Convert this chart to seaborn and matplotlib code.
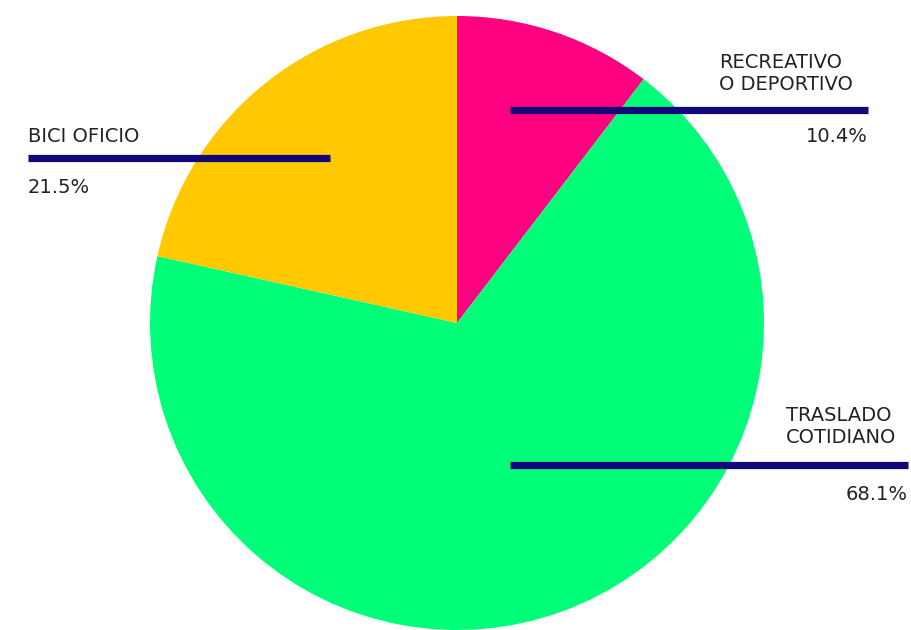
import matplotlib
matplotlib.use("Agg")
import matplotlib.pyplot as plt
import seaborn as sns

categories = ["RECREATIVO\nO DEPORTIVO", "TRASLADO\nCOTIDIANO", "BICI OFICIO"]
values = [10.4, 68.1, 21.5]
pct_labels = ["10.4%", "68.1%", "21.5%"]
colors = ["#FF0080", "#00FF78", "#FFC800"]

sns.set_theme(style="white")
plt.rcParams['font.family'] = ['DejaVu Sans']

H = 630
fig = plt.figure(figsize=(9.12, 6.3), dpi=100)
ax = fig.add_axes([0, 0, 1, 1])

ax.pie(values, colors=colors, startangle=90, counterclock=False,
       center=(457, H - 323), radius=307, frame=True,
       wedgeprops=dict(linewidth=0))
ax.set_xlim(0, 912)
ax.set_ylim(0, H)
ax.set_aspect('equal')
ax.axis('off')

line_color = "#12077A"
fs = 14
txt_color = "#222222"

# label layout: (line x0, line x1, line y, text x, text y, pct x, pct y)
layout = [
    (510, 868, 110, 719, 90, 868, 142),
    (510, 908, 465, 786, 443, 908, 500),
    (28, 330, 158, 28, 142, 28, 193),
]
for i, (x0, x1, ly, tx, ty, px, py) in enumerate(layout):
    ax.plot([x0, x1], [H - ly, H - ly], color=line_color, lw=5.2, solid_capstyle='butt')
    ax.text(tx, H - ty, categories[i], ha='left', va='baseline', fontsize=fs,
            color=txt_color, linespacing=1.2)
    ax.text(px, H - py, pct_labels[i], ha='right' if px > 400 else 'left',
            va='baseline', fontsize=fs, color=txt_color)

fig.savefig("out.png", dpi=100)
